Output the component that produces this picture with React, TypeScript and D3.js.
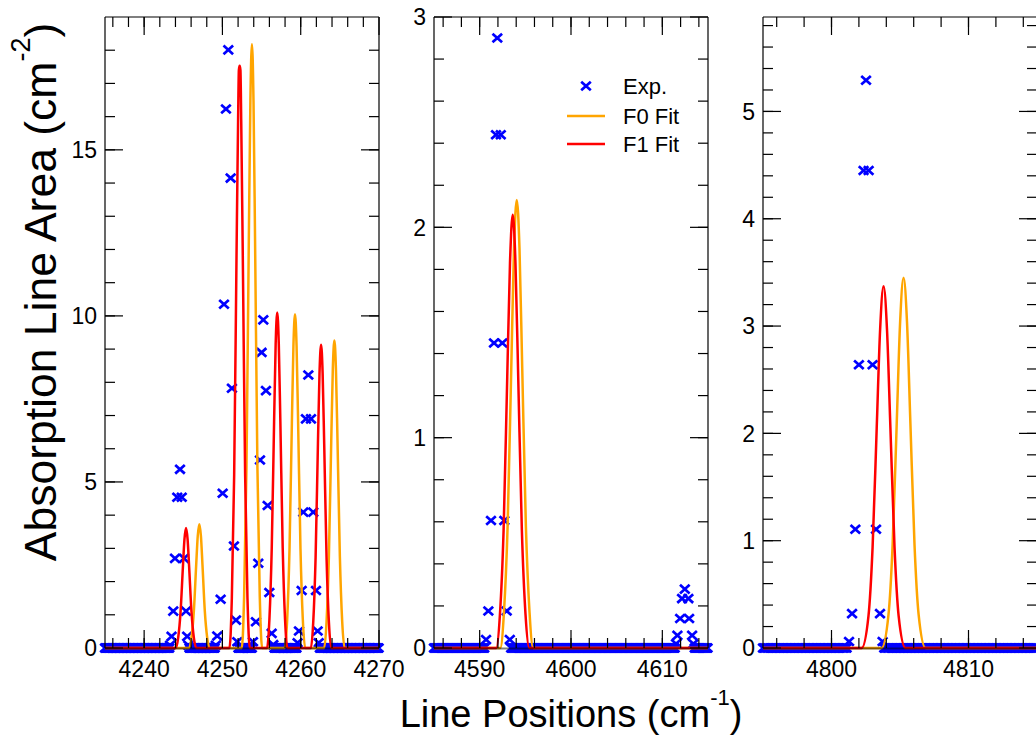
import React from "react";
import * as d3 from "d3";

// experimental line areas (blue x), panel by panel
const expPos1 = [
  4244.58, 4244.23, 4244.8, 4243.94, 4245.09, 4243.72, 4245.35, 4243.5, 4245.5, 4243.3, 4245.65,
  4250.75, 4250.45, 4251.05, 4250.2, 4251.21, 4250.03, 4251.47, 4249.77, 4251.73, 4249.34, 4251.9, 4249.15,
  4255.22, 4255.0, 4255.56, 4254.8, 4255.78, 4254.58, 4255.99, 4254.28, 4256.29, 4253.9, 4256.5,
  4260.97, 4260.67, 4261.31, 4260.33, 4261.6, 4260.12, 4261.95, 4259.78, 4262.16, 4259.6, 4262.3,
];
const expVal1 = [
  5.38, 4.54, 4.54, 2.7, 2.7, 1.11, 1.11, 0.35, 0.35, 0.08, 0.08,
  18.01, 16.23, 14.15, 10.35, 7.82, 4.66, 3.07, 1.47, 0.84, 0.36, 0.19, 0.08,
  9.88, 8.9, 7.75, 5.66, 4.29, 2.55, 1.67, 0.79, 0.44, 0.19, 0.1,
  8.22, 6.9, 6.9, 4.09, 4.09, 1.73, 1.73, 0.51, 0.51, 0.16, 0.16,
];
const expPos2 = [
  4591.93, 4591.79, 4592.31, 4591.57, 4592.48, 4591.24, 4592.7, 4590.95, 4592.96, 4590.7, 4593.3,
  4612.46, 4612.16, 4612.85, 4611.95, 4612.93, 4611.65, 4613.26, 4611.5, 4613.4,
];
const expVal2 = [
  2.9, 2.44, 2.44, 1.45, 1.45, 0.606, 0.606, 0.176, 0.176, 0.04, 0.04,
  0.28, 0.235, 0.235, 0.14, 0.14, 0.06, 0.06, 0.02, 0.02,
];
const expPos3 = [4802.52, 4802.34, 4802.71, 4802.0, 4803.0, 4801.74, 4803.25, 4801.5, 4803.54, 4801.28, 4803.73];
const expVal3 = [5.29, 4.45, 4.45, 2.64, 2.64, 1.106, 1.106, 0.32, 0.32, 0.06, 0.06];

// stretches where the measured areas sit at zero
const zeroSpans1 = [[4235, 4243.2], [4245.8, 4249.05], [4252.05, 4253.75], [4256.65, 4259.45], [4262.45, 4270]];
const zeroSpans2 = [[4585, 4590.55], [4593.45, 4611.35], [4613.55, 4615]];
const zeroSpans3 = [[4795, 4801.15], [4803.85, 4815]];

// F0 fit (orange)
const f0Pos1 = [
  4235, 4245.75, 4246.05, 4246.35, 4246.65, 4246.85, 4247.05, 4247.25, 4247.45, 4247.75, 4248.05, 4248.35,
  4252.47, 4252.77, 4253.07, 4253.37, 4253.57, 4253.77, 4253.97, 4254.17, 4254.47, 4254.77, 4255.07,
  4257.97, 4258.27, 4258.57, 4258.87, 4259.07, 4259.27, 4259.47, 4259.67, 4259.97, 4260.27, 4260.57,
  4263.0, 4263.3, 4263.6, 4263.9, 4264.1, 4264.3, 4264.5, 4264.7, 4265.0, 4265.3, 4265.6, 4270,
];
const f0Val1 = [
  0, 0, 0.32, 1.11, 2.51, 3.38, 3.73, 3.38, 2.51, 1.11, 0.32, 0,
  0, 1.55, 5.42, 12.25, 16.47, 18.18, 16.47, 12.25, 5.42, 1.55, 0,
  0, 0.85, 2.99, 6.77, 9.1, 10.05, 9.1, 6.77, 2.99, 0.85, 0,
  0, 0.79, 2.76, 6.24, 8.39, 9.26, 8.39, 6.24, 2.76, 0.79, 0, 0,
];
const f0Pos2 = [4585, 4592.26, 4592.66, 4593.06, 4593.46, 4593.76, 4594.06, 4594.36, 4594.66, 4595.06, 4595.46, 4595.86, 4615];
const f0Val2 = [0, 0, 0.17, 0.58, 1.33, 1.9, 2.13, 1.9, 1.33, 0.58, 0.17, 0, 0];
const f0Pos3 = [4795, 4803.66, 4804.16, 4804.46, 4804.76, 4805.01, 4805.26, 4805.51, 4805.76, 4806.06, 4806.36, 4806.86, 4815];
const f0Val3 = [0, 0, 0.31, 0.96, 2.09, 3.04, 3.45, 3.04, 2.09, 0.96, 0.31, 0, 0];

// F1 fit (red)
const f1Pos1 = [
  4235, 4244.05, 4244.35, 4244.65, 4244.95, 4245.15, 4245.35, 4245.55, 4245.75, 4246.05, 4246.35, 4246.65,
  4250.9, 4251.2, 4251.5, 4251.8, 4252.0, 4252.1, 4252.2, 4252.3, 4252.4, 4252.6, 4252.9, 4253.2, 4253.5,
  4255.7, 4256.0, 4256.3, 4256.6, 4256.8, 4257.0, 4257.2, 4257.4, 4257.7, 4258.0, 4258.3,
  4261.3, 4261.6, 4261.9, 4262.2, 4262.4, 4262.6, 4262.8, 4263.0, 4263.3, 4263.6, 4263.9, 4270,
];
const f1Val1 = [
  0, 0, 0.31, 1.08, 2.43, 3.27, 3.61, 3.27, 2.43, 1.08, 0.31, 0,
  0, 1.49, 5.22, 11.82, 15.88, 17.4, 17.53, 17.4, 15.88, 11.82, 5.22, 1.49, 0,
  0, 0.86, 3.01, 6.81, 9.15, 10.1, 9.15, 6.81, 3.01, 0.86, 0,
  0, 0.78, 2.72, 6.15, 8.27, 9.13, 8.27, 6.15, 2.72, 0.78, 0, 0,
];
const f1Pos2 = [4585, 4591.82, 4592.22, 4592.62, 4593.02, 4593.32, 4593.62, 4593.92, 4594.22, 4594.62, 4595.02, 4595.42, 4615];
const f1Val2 = [0, 0, 0.16, 0.56, 1.29, 1.83, 2.06, 1.83, 1.29, 0.56, 0.16, 0, 0];
const f1Pos3 = [4795, 4802.2, 4802.7, 4803.0, 4803.3, 4803.55, 4803.8, 4804.05, 4804.3, 4804.6, 4804.9, 4805.4, 4815];
const f1Val3 = [0, 0, 0.3, 0.94, 2.05, 2.97, 3.37, 2.97, 2.05, 0.94, 0.3, 0, 0];

const legendLabels = ["Exp.", "F0 Fit", "F1 Fit"];

const FONT = "'Liberation Sans', Arial, Helvetica, sans-serif";
const TOP = 17;
const BOTTOM = 648;
const PW = 274;

const panels = [
  { left: 105, xDom: [4235, 4270], yMax: 19, xMaj: 10, xMin: 2, yMaj: 5, yMin: 1,
    expPos: expPos1, expVal: expVal1, zero: zeroSpans1, f0x: f0Pos1, f0y: f0Val1, f1x: f1Pos1, f1y: f1Val1 },
  { left: 434, xDom: [4585, 4615], yMax: 3, xMaj: 10, xMin: 2, yMaj: 1, yMin: 0.2,
    expPos: expPos2, expVal: expVal2, zero: zeroSpans2, f0x: f0Pos2, f0y: f0Val2, f1x: f1Pos2, f1y: f1Val2 },
  { left: 763, xDom: [4795, 4815], yMax: 5.88, xMaj: 10, xMin: 2, yMaj: 1, yMin: 0.2,
    expPos: expPos3, expVal: expVal3, zero: zeroSpans3, f0x: f0Pos3, f0y: f0Val3, f1x: f1Pos3, f1y: f1Val3 },
];

const Cross = ({ x, y }) => (
  <path
    d={`M${x - 4.8},${y - 4.3}L${x + 4.8},${y + 4.3}M${x - 4.8},${y + 4.3}L${x + 4.8},${y - 4.3}`}
    stroke="#0000ff"
    strokeWidth={2.7}
    fill="none"
  />
);

const ticksBetween = (lo, hi, step) => {
  const out = [];
  const start = Math.ceil(lo / step - 1e-6);
  for (let k = start; k * step <= hi + 1e-6; k++) out.push(+(k * step).toFixed(4));
  return out;
};

const Panel = ({ p }) => {
  const x = d3.scaleLinear().domain(p.xDom).range([p.left, p.left + PW]);
  const y = d3.scaleLinear().domain([0, p.yMax]).range([BOTTOM, TOP]);
  const line = d3
    .line()
    .x((d) => x(d[0]))
    .y((d) => y(d[1]))
    .curve(d3.curveMonotoneX);

  const zeroPts = [];
  p.zero.forEach(([a, b]) => {
    d3.range(a, b + 1e-6, 0.1).forEach((v) => zeroPts.push(v));
  });

  const xMinor = ticksBetween(p.xDom[0], p.xDom[1], p.xMin).filter((v) => v > p.xDom[0] && v < p.xDom[1]);
  const xMajor = ticksBetween(p.xDom[0], p.xDom[1], p.xMaj);
  const yMinor = ticksBetween(0, p.yMax, p.yMin).filter((v) => v > 0 && v < p.yMax);
  const yMajor = ticksBetween(0, p.yMax, p.yMaj);
  const R = p.left + PW;

  return (
    <g>
      {zeroPts.map((v, i) => (
        <Cross key={"z" + i} x={x(v)} y={y(0)} />
      ))}
      {p.expPos.map((v, i) => (
        <Cross key={"e" + i} x={x(v)} y={y(p.expVal[i])} />
      ))}
      <path d={line(p.f0x.map((v, i) => [v, p.f0y[i]]))} fill="none" stroke="#ffa500" strokeWidth={2.5} strokeLinejoin="round" />
      <path d={line(p.f1x.map((v, i) => [v, p.f1y[i]]))} fill="none" stroke="#ff0000" strokeWidth={2.5} strokeLinejoin="round" />

      {/* frame */}
      <g stroke="#000" strokeWidth={1.2} fill="none">
        <line x1={p.left} x2={R} y1={TOP} y2={TOP} />
        <line x1={p.left} x2={p.left} y1={TOP} y2={BOTTOM} />
        <line x1={R} x2={R} y1={TOP} y2={BOTTOM} />
      </g>
      <line x1={p.left} x2={R} y1={BOTTOM + 0.5} y2={BOTTOM + 0.5} stroke="#000" strokeOpacity={0.5} strokeWidth={2} />

      {/* ticks, all inward, mirrored */}
      <g stroke="#000" strokeWidth={1.2}>
        {xMinor.map((v) => (
          <g key={"xm" + v}>
            <line x1={x(v)} x2={x(v)} y1={BOTTOM} y2={BOTTOM - 10} />
            <line x1={x(v)} x2={x(v)} y1={TOP} y2={TOP + 10} />
          </g>
        ))}
        {xMajor.map((v) => (
          <g key={"xM" + v}>
            <line x1={x(v)} x2={x(v)} y1={BOTTOM} y2={BOTTOM - 18} />
            <line x1={x(v)} x2={x(v)} y1={TOP} y2={TOP + 18} />
          </g>
        ))}
        {yMinor.map((v) => (
          <g key={"ym" + v}>
            <line x1={p.left} x2={p.left + 10} y1={y(v)} y2={y(v)} />
            <line x1={R} x2={R - 10} y1={y(v)} y2={y(v)} />
          </g>
        ))}
        {yMajor.map((v) => (
          <g key={"yM" + v}>
            <line x1={p.left} x2={p.left + 18} y1={y(v)} y2={y(v)} />
            <line x1={R} x2={R - 18} y1={y(v)} y2={y(v)} />
          </g>
        ))}
      </g>

      <g fontFamily={FONT} fontSize={23} fill="#000">
        {xMajor.map((v) => (
          <text key={"xl" + v} x={x(v)} y={677} textAnchor="middle">
            {v}
          </text>
        ))}
        {yMajor.map((v) => (
          <text key={"yl" + v} x={p.left - 8} y={y(v)} dy="0.36em" textAnchor="end">
            {v}
          </text>
        ))}
      </g>
    </g>
  );
};

export default function App() {
  return (
    <svg
      width={1036}
      height={736}
      style={{ position: "absolute", left: 0, top: 0, background: "#fff" }}
    >
      <rect width={1036} height={736} fill="#fff" />
      {panels.map((p, i) => (
        <Panel key={i} p={p} />
      ))}

      {/* legend */}
      <g fontFamily={FONT} fontSize={22}>
        <Cross x={586} y={86} />
        <line x1={567} x2={605} y1={116} y2={116} stroke="#ffa500" strokeWidth={2.5} />
        <line x1={567} x2={605} y1={144} y2={144} stroke="#ff0000" strokeWidth={2.5} />
        {legendLabels.map((t, i) => (
          <text key={t} x={623} y={[86, 116, 144][i]} dy="0.36em">
            {t}
          </text>
        ))}
      </g>

      <text x={571} y={727} textAnchor="middle" fontFamily={FONT} fontSize={38}>
        Line Positions (cm
        <tspan dy={-22} fontSize={22}>-1</tspan>
        <tspan dy={22}>)</tspan>
      </text>
      <text
        transform="translate(56,292) rotate(-90)"
        textAnchor="middle"
        fontFamily={FONT}
        fontSize={44.5}
      >
        Absorption Line Area (cm
        <tspan dy={-26} fontSize={27}>-2</tspan>
        <tspan dy={26}>)</tspan>
      </text>
    </svg>
  );
}
